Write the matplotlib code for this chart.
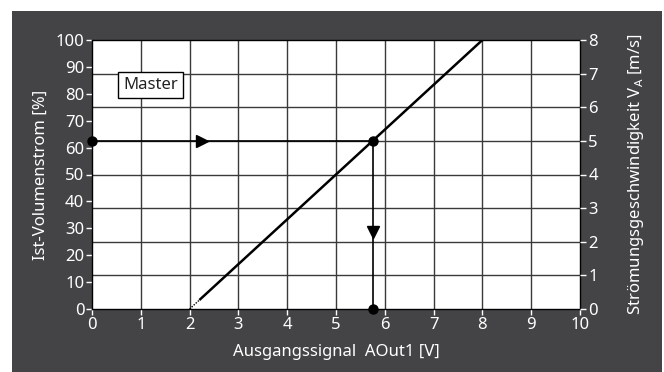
import matplotlib
matplotlib.use("Agg")
import matplotlib.pyplot as plt
from matplotlib.patches import Rectangle

# characteristic: output signal [V] -> actual volume flow [%]
signal_v = [2.0, 8.0]
flow_pct = [0.0, 100.0]
start_solid_v = 2.2
operating_v = 5.75
operating_pct = 62.5
arrow_h_v = 2.25
arrow_v_pct = 28.5

x_ticks = list(range(0, 11))
y_ticks = list(range(0, 101, 10))
speed_ticks = list(range(0, 9))
speed_max = 8

BG = "#444446"
FS = 12
plt.rcParams["font.family"] = ["Noto Sans", "DejaVu Sans"]

fig = plt.figure(figsize=(6.64, 3.72), dpi=100)
fig.patch.set_facecolor("white")
fig.add_artist(Rectangle((12 / 664, 0), 650 / 664, (372 - 11) / 372,
                         transform=fig.transFigure, facecolor=BG,
                         edgecolor="none", zorder=0))

ax = fig.add_axes([92 / 664, 1 - 309 / 372, 488 / 664, 269 / 372])
ax.set_facecolor("white")
ax.set_xlim(0, 10)
ax.set_ylim(0, 100)

# grid: vertical lines per volt, horizontal lines per m/s
grid_c = "#3a3a3a"
for xv in x_ticks[1:-1]:
    ax.axvline(xv, color=grid_c, lw=1.0, zorder=1)
for s in speed_ticks[1:-1]:
    ax.axhline(s / speed_max * 100, color=grid_c, lw=1.0, zorder=1)

for sp in ax.spines.values():
    sp.set_color("black")
    sp.set_linewidth(1.0)

ax.set_xticks(x_ticks)
ax.set_yticks(y_ticks)
ax.tick_params(colors="white", labelsize=FS, length=4, width=1, direction="out")
ax.tick_params(axis="x", pad=2)
ax.tick_params(axis="y", pad=1.5)

ax.set_xlabel("Ausgangssignal  AOut1 [V]", color="white", fontsize=FS, labelpad=8)
ax.set_ylabel("Ist-Volumenstrom [%]", color="white", fontsize=FS, labelpad=5)

ax2 = ax.twinx()
ax2.set_ylim(0, speed_max)
ax2.set_yticks(speed_ticks)
ax2.tick_params(colors="white", labelsize=FS, length=4, width=1, direction="out", pad=2)
for sp in ax2.spines.values():
    sp.set_visible(False)
ax2.set_ylabel("Strömungsgeschwindigkeit V$_\\mathregular{A}$ [m/s]", color="white",
               fontsize=FS, labelpad=20)

# characteristic line: dotted start, solid remainder
slope = (flow_pct[1] - flow_pct[0]) / (signal_v[1] - signal_v[0])
y_start_solid = flow_pct[0] + slope * (start_solid_v - signal_v[0])
ax.plot([signal_v[0], start_solid_v], [flow_pct[0], y_start_solid],
        color="black", lw=1.0, ls=(0, (1, 1)), zorder=3)
ax.plot([start_solid_v, signal_v[1]], [y_start_solid, flow_pct[1]],
        color="black", lw=1.8, solid_capstyle="butt", zorder=3)

# reading path
ax.plot([0, operating_v], [operating_pct, operating_pct], color="black", lw=1.2, zorder=4)
ax.plot([operating_v, operating_v], [operating_pct, 0], color="black", lw=1.2, zorder=4)
ax.plot([0, operating_v, operating_v], [operating_pct, operating_pct, 0], "o",
        color="black", ms=6.5, clip_on=False, zorder=5)
ax.plot([arrow_h_v], [operating_pct], marker=">", color="black", ms=8.5, zorder=5)
ax.plot([operating_v], [arrow_v_pct], marker="v", color="black", ms=8.5, zorder=5)

ax.text(1.2, 83.3, "Master", fontsize=FS, color="#222222", ha="center", va="center",
        zorder=6,
        bbox=dict(boxstyle="square,pad=0.3", facecolor="white", edgecolor="black", lw=1.0))

fig.savefig("out.png", dpi=100, facecolor=fig.get_facecolor())
